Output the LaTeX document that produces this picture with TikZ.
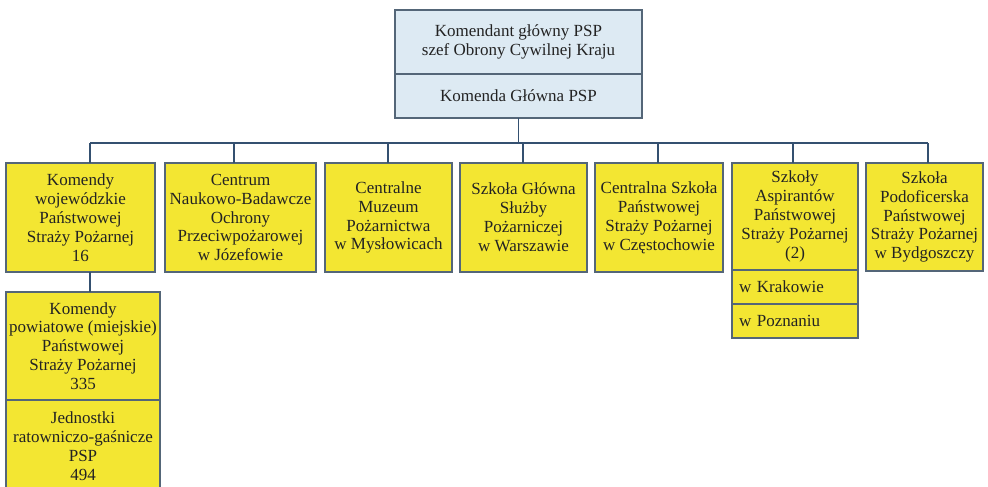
\documentclass[tikz,border=0pt]{standalone}
\usepackage{fontspec}
\setmainfont{Liberation Serif}
\definecolor{boxyellow}{RGB}{243,230,50}
\definecolor{headblue}{RGB}{221,234,243}
\definecolor{edgegray}{RGB}{84,102,120}
\definecolor{linkblue}{RGB}{52,80,112}
\definecolor{inkgray}{RGB}{35,35,35}
\begin{document}
\begin{tikzpicture}[x=1pt,y=-1pt,
    unit/.style={draw=edgegray,line width=1.6pt,fill=boxyellow,align=center,text=inkgray,
      inner sep=1pt,outer sep=0pt,font=\fontsize{17}{18.9}\selectfont},
    headbox/.style={unit,fill=headblue},
    subunit/.style={unit,align=left,text width=112pt,inner xsep=7pt},
    link/.style={draw=linkblue,line width=1.5pt}]
  \useasboundingbox (0,0) rectangle (988,487);
  \clip (0,0) rectangle (988,487);
  % top
  \node[headbox,minimum width=247pt,minimum height=64pt] (chief) at (518.5,42)
    {Komendant główny PSP\\szef Obrony Cywilnej Kraju};
  \node[headbox,minimum width=247pt,minimum height=44pt] (hq) at (518.5,96)
    {Komenda Główna PSP};
  % row of units
  \node[unit,minimum width=149pt,minimum height=109pt] (kw) at (80.5,217.5)
    {Komendy\\wojewódzkie\\Państwowej\\Straży Pożarnej\\16};
  \node[unit,minimum width=151pt,minimum height=109pt] (cnbop) at (240.5,217.5)
    {Centrum\\Naukowo-Badawcze\\Ochrony\\Przeciwpożarowej\\w Józefowie};
  \node[unit,minimum width=127pt,minimum height=109pt] (cmp) at (388.5,217.5)
    {Centralne\\Muzeum\\Pożarnictwa\\w Mysłowicach};
  \node[unit,minimum width=127pt,minimum height=109pt] (sgsp) at (523.5,217.5)
    {Szkoła Główna\\Służby\\Pożarniczej\\w Warszawie};
  \node[unit,minimum width=128pt,minimum height=109pt] (cssp) at (659,217.5)
    {Centralna Szkoła\\Państwowej\\Straży Pożarnej\\w Częstochowie};
  \node[unit,minimum width=126pt,minimum height=107pt] (sasp) at (795,216.5)
    {Szkoły\\Aspirantów\\Państwowej\\Straży Pożarnej\\(2)};
  \node[subunit,minimum height=34pt] (krak) at (795,287) {w Krakowie};
  \node[subunit,minimum height=34pt] (pozn) at (795,321) {w Poznaniu};
  \node[unit,minimum width=117pt,minimum height=108pt] (spsp) at (924.5,217)
    {Szkoła\\Podoficerska\\Państwowej\\Straży Pożarnej\\w Bydgoszczy};
  % lower left
  \node[unit,minimum width=154pt,minimum height=108pt] (kp) at (83,346)
    {Komendy\\powiatowe (miejskie)\\Państwowej\\Straży Pożarnej\\335};
  \node[unit,minimum width=154pt,minimum height=92pt] (jrg) at (83,446)
    {Jednostki\\ratowniczo-gaśnicze\\PSP\\494};
  % connectors
  \coordinate (busL) at (90,143);
  \coordinate (busR) at (928,143);
  \draw[link] (busL) -- (busR);
  \draw[link] (hq.south) -- (hq.south |- busL);
  \foreach \n/\x in {kw/90,cnbop/234,cmp/388,sgsp/523,cssp/658,sasp/793,spsp/928} {
    \coordinate (drop-\n) at (\x,143);
    \draw[link] (drop-\n) -- (\n.north -| drop-\n);
  }
  \draw[link] (kw.south -| drop-kw) -- (kp.north -| drop-kw);
\end{tikzpicture}
\end{document}
